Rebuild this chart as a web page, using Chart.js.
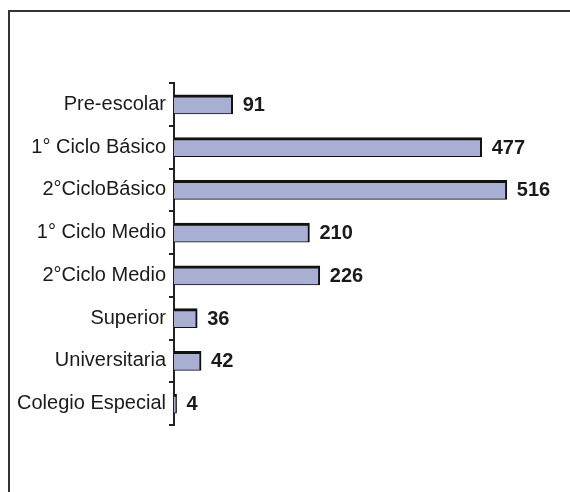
<!DOCTYPE html>
<html>
<head>
<meta charset="utf-8">
<script src="https://cdn.jsdelivr.net/npm/chart.js@4"></script>
<style>
  body { margin: 0; background: #fff; }
  #wrap { width: 570px; height: 492px; }
</style>
</head>
<body>
<div id="wrap"><canvas id="grafico"></canvas></div>
<script>
const categorias = ['Pre-escolar', '1° Ciclo Básico', '2°CicloBásico', '1° Ciclo Medio', '2°Ciclo Medio', 'Superior', 'Universitaria', 'Colegio Especial'];
const alumnos = [91, 477, 516, 210, 226, 36, 42, 4];

// marco de la figura (solo borde izquierdo y superior visibles)
const marco = {
    id: 'marco',
    beforeDraw(chart) {
        const ctx = chart.ctx;
        ctx.save();
        ctx.strokeStyle = '#333';
        ctx.lineWidth = 2;
        ctx.beginPath();
        ctx.moveTo(9, 492);
        ctx.lineTo(9, 11);
        ctx.lineTo(570, 11);
        ctx.stroke();
        ctx.restore();
    }
};

// etiquetas de valor al final de cada barra
const etiquetas = {
    id: 'etiquetas',
    afterDatasetsDraw(chart) {
        const ctx = chart.ctx;
        const meta = chart.getDatasetMeta(0);
        ctx.save();
        ctx.font = 'bold 20px Arial, "Liberation Sans", sans-serif';
        ctx.fillStyle = '#1a1a1a';
        ctx.textBaseline = 'middle';
        ctx.textAlign = 'left';
        meta.data.forEach((barra, i) => {
            ctx.fillText(alumnos[i], barra.x + 10, barra.y + 1);
        });
        ctx.restore();
    }
};

new Chart(document.getElementById('grafico'), {
    type: 'bar',
    data: {
        labels: categorias,
        datasets: [{
            data: alumnos,
            backgroundColor: '#a9aed3',
            borderColor: '#111',
            borderWidth: { top: 3, right: 2, bottom: 1, left: 0 },
            borderSkipped: false,
            barThickness: 19
        }]
    },
    options: {
        indexAxis: 'y',
        responsive: true,
        maintainAspectRatio: false,
        animation: false,
        layout: { padding: { top: 83, bottom: 67, left: 0, right: 9 } },
        plugins: {
            legend: { display: false },
            tooltip: { enabled: false }
        },
        scales: {
            x: {
                display: false,
                min: 0,
                max: 600
            },
            y: {
                afterFit(scale) { scale.width = 174; },
                border: { display: true, color: '#222', width: 2 },
                grid: {
                    offset: true,
                    drawOnChartArea: false,
                    drawTicks: true,
                    tickLength: 5,
                    color: '#222',
                    lineWidth: 2
                },
                ticks: {
                    color: '#1a1a1a',
                    padding: 3,
                    font: { family: 'Arial, "Liberation Sans", sans-serif', size: 20 }
                }
            }
        }
    },
    plugins: [marco, etiquetas]
});
</script>
</body>
</html>
